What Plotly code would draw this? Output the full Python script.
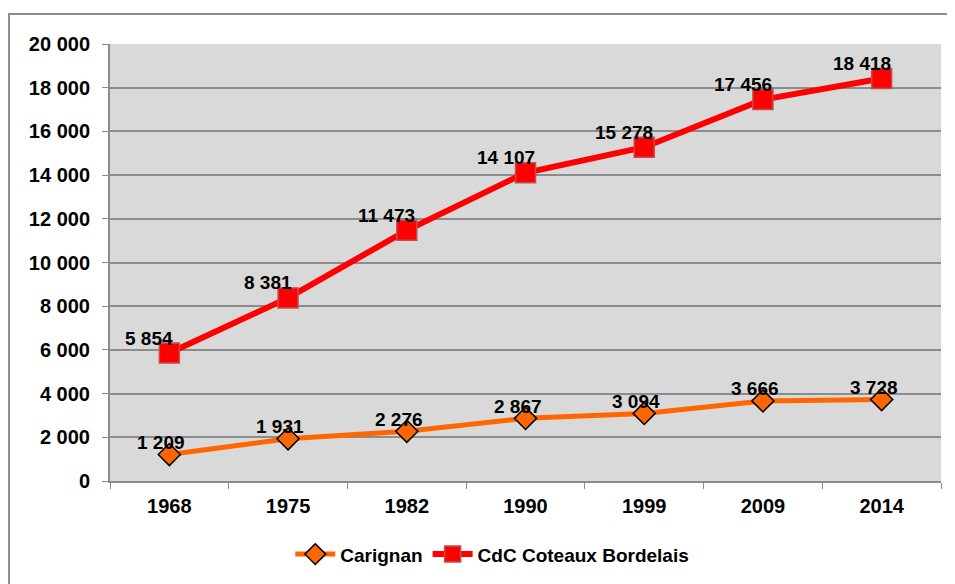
import plotly.graph_objects as go

years = ["1968", "1975", "1982", "1990", "1999", "2009", "2014"]
carignan = [1209, 1931, 2276, 2867, 3094, 3666, 3728]
cdc = [5854, 8381, 11473, 14107, 15278, 17456, 18418]
y_ticks = [0, 2000, 4000, 6000, 8000, 10000, 12000, 14000, 16000, 18000, 20000]


def fmt(v):
    # french style thousands separator
    return f"{v:,}".replace(",", " ")


fig = go.Figure()

fig.add_trace(go.Scatter(
    x=years, y=carignan, name="Carignan", mode="lines+markers",
    line=dict(color="#FF6600", width=5),
    marker=dict(symbol="diamond", size=17, color="#FF6600",
                line=dict(color="black", width=1.5)),
))
fig.add_trace(go.Scatter(
    x=years, y=cdc, name="CdC Coteaux Bordelais", mode="lines+markers",
    line=dict(color="#FF0000", width=6),
    marker=dict(symbol="square", size=20, color="#FF0000",
                line=dict(color="#C0504D", width=1.5)),
))

label_font = dict(family="Liberation Sans", size=19, color="black", weight="bold")

# data labels, sitting above and a bit to the left of each point
# (category index used for x so the labels don't mess with the category axis)
for i, v in enumerate(carignan):
    fig.add_annotation(x=i, y=v, text=fmt(v), showarrow=False,
                       xshift=-8, yshift=12, font=label_font)
for i, v in enumerate(cdc):
    fig.add_annotation(x=i, y=v, text=fmt(v), showarrow=False,
                       xshift=-20, yshift=15, font=label_font)

# outer chart frame (runs off the right/bottom edge like the original crop)
fig.add_shape(type="rect", xref="paper", yref="paper",
              x0=-0.1215, x1=1.06, y0=-0.3, y1=1.0685,
              line=dict(color="#8C8C8C", width=2), fillcolor="rgba(0,0,0,0)",
              layer="below")

# page body has an 8px margin, so shift everything by that
fig.update_layout(
    width=947, height=576,
    margin=dict(l=102, r=14, t=36, b=102),
    paper_bgcolor="white",
    plot_bgcolor="#D9D9D9",
    font=dict(family="Liberation Sans", size=20, color="black"),
    showlegend=True,
    legend=dict(orientation="h", x=0.46, xanchor="center", y=-0.165, yanchor="middle",
                font=dict(size=19, family="Liberation Sans", weight="bold"),
                itemwidth=40),
)

fig.update_xaxes(
    type="category", range=[-0.5, len(years) - 0.5], showgrid=False,
    showline=True, linecolor="#8C8C8C", linewidth=2,
    ticks="outside", tickson="boundaries", ticklen=6, tickcolor="#8C8C8C",
    ticklabelstandoff=6,
    tickfont=dict(size=20, family="Liberation Sans", weight="bold"),
)
fig.update_yaxes(
    range=[0, 20000], tickvals=y_ticks, ticktext=[fmt(v) for v in y_ticks],
    showgrid=True, gridcolor="#8C8C8C", gridwidth=2,
    showline=True, linecolor="#8C8C8C", linewidth=2,
    ticks="outside", ticklen=6, tickcolor="#8C8C8C", ticklabelstandoff=8,
    tickfont=dict(size=20, family="Liberation Sans", weight="bold"),
    zeroline=False,
)

fig.write_html("out.html")
